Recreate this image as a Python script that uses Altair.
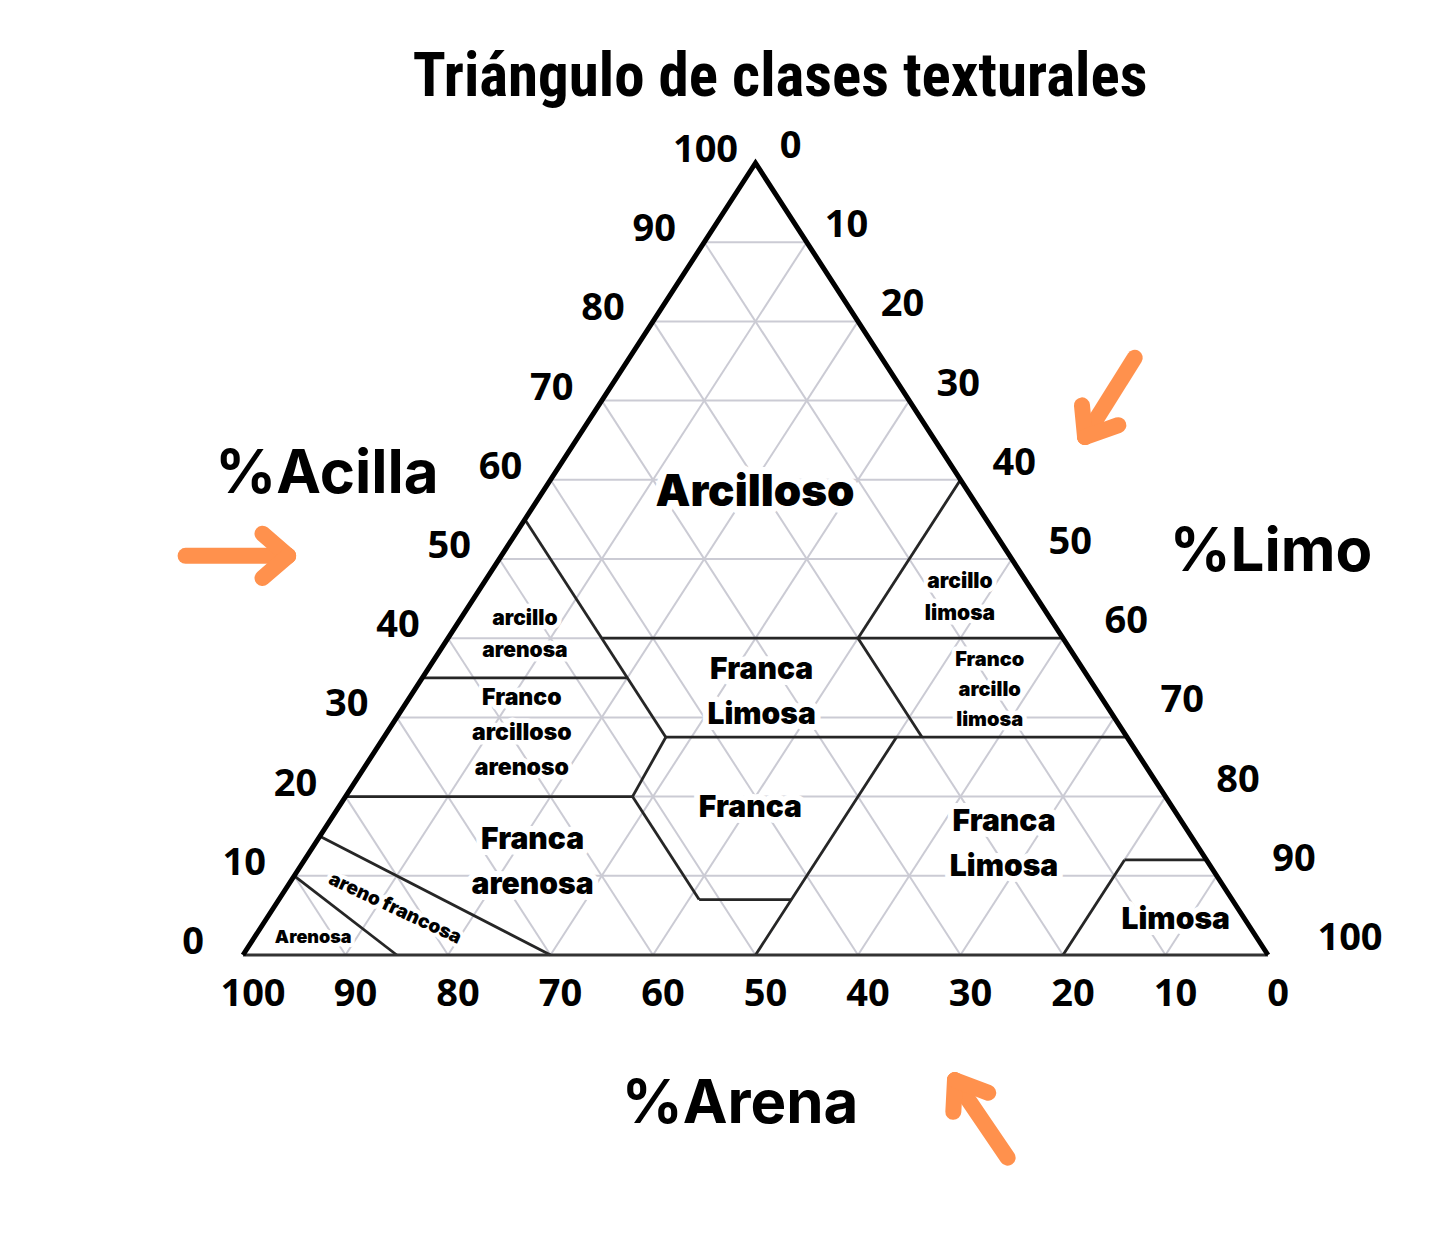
import altair as alt
import pandas as pd

# ---------------- data ----------------
TITLE = "Triángulo de clases texturales"
AXIS_TITLES = {"clay": "%Acilla", "silt": "%Limo", "sand": "%Arena"}
TICKS = [0, 10, 20, 30, 40, 50, 60, 70, 80, 90, 100]
GRID_STEPS = [10, 20, 30, 40, 50, 60, 70, 80, 90]

# class boundaries: (clay1 %, silt1 %, clay2 %, silt2 %)
BOUNDARIES = [
    (55, 0, 27.5, 27.5),
    (27.5, 27.5, 20, 28),
    (20, 28, 7, 41),
    (7, 41, 7, 50),
    (27.5, 50, 0, 50),
    (40, 15, 40, 60),
    (40, 40, 60, 40),
    (35, 0, 35, 20),
    (27.5, 27.5, 27.5, 72.5),
    (40, 40, 27.5, 52.5),
    (20, 0, 20, 28),
    (12, 80, 12, 88),
    (12, 80, 0, 80),
    (15, 0, 0, 30),
    (10, 0, 0, 15),
]

# class names with anchor composition (name, clay %, silt %)
CLASS_XL = [("Arcilloso", 58.3, 20.8)]
CLASS_L = [
    ("Franca\narenosa", 11.7, 22.4),
    ("Franca\nLimosa", 33.2, 34.0),
    ("Franca", 18.6, 40.2),
    ("Franca\nLimosa", 13.9, 67.3),
    ("Limosa", 4.4, 88.8),
]
CLASS_M = [
    ("arcillo\narenosa", 40.4, 7.3),
    ("arcillo\nlimosa", 45.1, 47.4),
]
CLASS_M2 = [("Franco\narcilloso\narenoso", 28.0, 13.2)]
CLASS_S = [("Franco\narcillo\nlimosa", 33.5, 56.1)]
CLASS_XS = [("Arenosa", 2.1, 5.8)]
CLASS_ROT = [("areno francosa", 5.9, 11.9)]

# orange arrows (x1, y1, x2, y2) in plot units
ARROWS = [
    (-5.6, 50.4, 4.4, 50.4), (1.9, 53.2, 4.4, 50.4), (1.9, 47.6, 4.4, 50.4),
    (87.0, 75.4, 82.15, 65.4), (81.85, 69.4, 82.15, 65.4), (85.4, 66.9, 82.15, 65.4),
    (74.6, -25.6, 69.46, -15.8), (69.3, -19.8, 69.46, -15.8), (72.7, -17.4, 69.46, -15.8),
]

# ---------------- layout ----------------
W, H = 1441, 1240
TRI_LEFT, TRI_RIGHT, TRI_BASE, TRI_TOP = 243, 1268, 955, 163
KX = (TRI_RIGHT - TRI_LEFT) / 100.0
KY = (TRI_BASE - TRI_TOP) / 100.0
X_DOMAIN = [-TRI_LEFT / KX, (W - TRI_LEFT) / KX]
Y_DOMAIN = [-(H - TRI_BASE) / KY, TRI_BASE / KY]

XS = alt.Scale(domain=X_DOMAIN, nice=False, zero=False)
YS = alt.Scale(domain=Y_DOMAIN, nice=False, zero=False)

FONT = "Inter, 'Inter Variable', Roboto, sans-serif"
TITLE_FONT = "'Roboto Condensed', 'Liberation Sans Narrow', 'DejaVu Sans Condensed', sans-serif"
TICK_FONT = "'Open Sans', sans-serif"


def tern(clay, silt):
    return silt + clay / 2.0, clay


def seg_df(segs):
    rows = []
    for c1, s1, c2, s2 in segs:
        x1, y1 = tern(c1, s1)
        x2, y2 = tern(c2, s2)
        rows.append({"x1": x1, "y1": y1, "x2": x2, "y2": y2})
    return pd.DataFrame(rows)


def rules(df, color, width, cap="butt"):
    return alt.Chart(df).mark_rule(color=color, strokeWidth=width, strokeCap=cap).encode(
        x=alt.X("x1:Q", scale=XS, axis=None),
        y=alt.Y("y1:Q", scale=YS, axis=None),
        x2="x2:Q",
        y2="y2:Q",
    )


def text_df(items, line_height=None):
    rows = []
    for name, clay, silt in items:
        x, y = tern(clay, silt)
        n = name.count("\n") + 1
        if line_height and n > 1:
            # centre the block of lines on the anchor
            y += (n - 1) / 2.0 * line_height / KY
        rows.append({"x": x, "y": y, "label": name})
    return pd.DataFrame(rows)


def texts(df, size, weight=800, line_height=None, angle=0, halo=0, font=FONT, color="black", dx=0, dy=0):
    kw = dict(fontSize=size, fontWeight=weight, font=font, lineBreak="\n",
              align="center", baseline="middle", dx=dx, dy=dy)
    if line_height:
        kw["lineHeight"] = line_height
    if angle:
        kw["angle"] = angle
    enc = dict(x=alt.X("x:Q", scale=XS, axis=None), y=alt.Y("y:Q", scale=YS, axis=None), text="label:N")
    layers = []
    if halo:
        layers.append(alt.Chart(df).mark_text(color="white", stroke="white", strokeWidth=halo,
                                               strokeJoin="round", **kw).encode(**enc))
    layers.append(alt.Chart(df).mark_text(color=color, **kw).encode(**enc))
    return layers


# grid
grid = []
for v in GRID_STEPS:
    grid.append((v, 0, v, 100 - v))                # clay = v
    grid.append((0, 100 - v, 100 - v, 0))          # sand = v
    grid.append((0, v, 100 - v, v))                # silt = v
grid_layer = rules(seg_df(grid), "#cbcbd4", 2)

bound_layer = rules(seg_df(BOUNDARIES), "#262626", 2.8)
bottom_edge = rules(seg_df([(0, 0, 0, 100)]), "#333333", 2.8)

outline_df = pd.DataFrame({"x": [0, 50, 100], "y": [0, 100, 0], "o": [0, 1, 2]})
outline = alt.Chart(outline_df).mark_line(color="black", strokeWidth=5, strokeJoin="miter").encode(
    x=alt.X("x:Q", scale=XS, axis=None), y=alt.Y("y:Q", scale=YS, axis=None), order="o:Q")

# class labels: halos behind the boundaries, text on top
halo_layers = []
fg_layers = []
for items, size, lh, hw in [
    (CLASS_XL, 44, None, 14), (CLASS_L, 30, 45, 12), (CLASS_M, 21, 32, 9),
    (CLASS_M2, 23, 35, 9), (CLASS_S, 20, 30, 9), (CLASS_XS, 18, None, 8),
]:
    h, f = texts(text_df(items, lh), size, weight=900, line_height=lh, halo=hw)
    halo_layers.append(h)
    fg_layers.append(f)
h, f = texts(text_df(CLASS_ROT), 19, weight=900, angle=25, halo=8)
halo_layers.append(h)
fg_layers.append(f)

# ticks
left_df = pd.DataFrame({"x": [t / 2.0 for t in TICKS], "y": TICKS, "label": [str(t) for t in TICKS]})
right_rows = []
for s in TICKS:
    x, y = tern(100 - s, s)
    right_rows.append({"x": x + (35 + 0.47 * s) / KX, "y": y, "label": str(s)})
right_df = pd.DataFrame(right_rows)
bottom_df = pd.DataFrame({"x": [100 - t for t in TICKS], "y": [0] * len(TICKS), "label": [str(t) for t in TICKS]})

tick_layers = []
tick_layers += texts(left_df, 38, weight=700, font=TICK_FONT, dx=-50, dy=-12)
tick_layers += texts(right_df, 38, weight=700, font=TICK_FONT, dy=-16)
tick_layers += texts(bottom_df, 38, weight=700, font=TICK_FONT, dx=10, dy=40)

# titles
title_df = pd.DataFrame({"x": [(780 - TRI_LEFT) / KX], "y": [(TRI_BASE - 78) / KY], "label": [TITLE]})
title_layer = texts(title_df, 61, weight=700, font=TITLE_FONT)
ax_df = pd.DataFrame({
    "x": [(327 - TRI_LEFT) / KX, (1271 - TRI_LEFT) / KX, (740 - TRI_LEFT) / KX],
    "y": [(TRI_BASE - 475) / KY, (TRI_BASE - 553) / KY, (TRI_BASE - 1105) / KY],
    "label": [AXIS_TITLES["clay"], AXIS_TITLES["silt"], AXIS_TITLES["sand"]],
})
ax_layer = texts(ax_df, 60, weight=700)

arrow_df = pd.DataFrame(ARROWS, columns=["x1", "y1", "x2", "y2"])
arrow_layer = rules(arrow_df, "#FF914D", 16, cap="round")

chart = alt.layer(
    grid_layer, *halo_layers, bound_layer, bottom_edge, outline, *fg_layers,
    *tick_layers, *title_layer, *ax_layer, arrow_layer,
).properties(
    width=W, height=H, autosize=alt.AutoSizeParams(type="none"), padding=0, background="white"
).configure_view(stroke=None)

chart.save("out.html", embed_options={"renderer": "svg", "actions": False})
